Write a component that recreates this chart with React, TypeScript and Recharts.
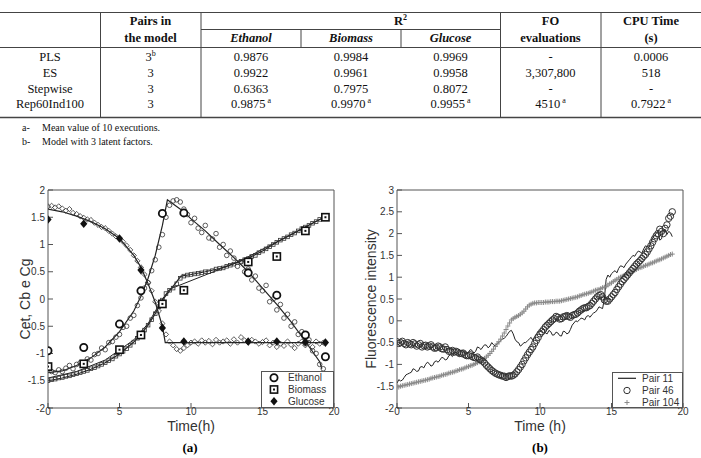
import React from 'react';
import { ComposedChart, Line, Scatter, XAxis, YAxis, Legend } from 'recharts';

// ---------------- Table data ----------------
const tableMethods = ['PLS', 'ES', 'Stepwise', 'Rep60Ind100'];
const tablePairs = ['3', '3', '3', '3'];
const tablePairsSup = ['b', '', '', ''];
const r2Ethanol = ['0.9876', '0.9922', '0.6363', '0.9875'];
const r2Biomass = ['0.9984', '0.9961', '0.7975', '0.9970'];
const r2Glucose = ['0.9969', '0.9958', '0.8072', '0.9955'];
const foEvaluations = ['-', '3,307,800', '-', '4510'];
const cpuTimes = ['0.0006', '518', '-', '0.7922'];
const rowMarks = ['', '', '', 'a'];
const footnotes = [
  ['a-', 'Mean value of 10 executions.'],
  ['b-', 'Model with 3 latent factors.'],
];

// ---------------- Chart (a) data ----------------
const xTicks = [0, 5, 10, 15, 20];
const yTicksA = [-2, -1.5, -1, -0.5, 0, 0.5, 1, 1.5, 2];
const yTicksB = [-2, -1.5, -1, -0.5, 0, 0.5, 1, 1.5, 2, 2.5, 3];

const sampleTimes = [
  0, 0.25, 0.5, 0.75, 1, 1.25, 1.5, 1.75, 2, 2.25, 2.5, 2.75, 3, 3.25, 3.5, 3.75,
  4, 4.25, 4.5, 4.75, 5, 5.25, 5.5, 5.75, 6, 6.25, 6.5, 6.75, 7, 7.25, 7.5, 7.75,
  8, 8.25, 8.5, 8.75, 9, 9.25, 9.5, 9.75, 10, 10.25, 10.5, 10.75, 11, 11.25, 11.5, 11.75,
  12, 12.25, 12.5, 12.75, 13, 13.25, 13.5, 13.75, 14, 14.25, 14.5, 14.75, 15, 15.25, 15.5, 15.75,
  16, 16.25, 16.5, 16.75, 17, 17.25, 17.5, 17.75, 18, 18.25, 18.5, 18.75, 19, 19.25,
];
const midTimes = [
  0.125, 0.375, 0.625, 0.875, 1.125, 1.375, 1.625, 1.875, 2.125, 2.375, 2.625, 2.875, 3.125, 3.375, 3.625, 3.875,
  4.125, 4.375, 4.625, 4.875, 5.125, 5.375, 5.625, 5.875, 6.125, 6.375, 6.625, 6.875, 7.125, 7.375, 7.625, 7.875,
  8.125, 8.375, 8.625, 8.875, 9.125, 9.375, 9.625, 9.875, 10.125, 10.375, 10.625, 10.875, 11.125, 11.375, 11.625, 11.875,
  12.125, 12.375, 12.625, 12.875, 13.125, 13.375, 13.625, 13.875, 14.125, 14.375, 14.625, 14.875, 15.125, 15.375, 15.625, 15.875,
  16.125, 16.375, 16.625, 16.875, 17.125, 17.375, 17.625, 17.875, 18.125, 18.375, 18.625, 18.875, 19.125,
];

const ethanolPred = [
  -1.28, -1.33, -1.35, -1.3, -1.33, -1.27, -1.22, -1.28, -1.2, -1.17, -1.2, -1.1, -1.12, -1.02, -1.0, -0.9,
  -0.93, -0.8, -0.78, -0.7, -0.65, -0.52, -0.5, -0.35, -0.3, -0.12, 0.02, 0.2, 0.3, 0.52, 0.72, 0.95,
  1.18, 1.5, 1.72, 1.8, 1.82, 1.78, 1.65, 1.55, 1.4, 1.48, 1.3, 1.22, 1.35, 1.12, 1.1, 1.2,
  0.95, 1.0, 0.8, 0.88, 0.75, 0.6, 0.68, 0.5, 0.55, 0.35, 0.42, 0.2, 0.15, 0.25, -0.05, 0.0,
  -0.2, -0.1, -0.35, -0.28, -0.5, -0.42, -0.65, -0.6, -0.82, -0.75, -0.95, -1.0, -1.2, -1.28,
];
const biomassPred = [
  -1.5, -1.48, -1.47, -1.45, -1.44, -1.42, -1.41, -1.39, -1.37, -1.35, -1.33, -1.31, -1.28, -1.26, -1.23, -1.2,
  -1.17, -1.13, -1.1, -1.05, -1.01, -0.96, -0.91, -0.85, -0.79, -0.72, -0.65, -0.57, -0.48, -0.38, -0.27, -0.14,
  -0.02, 0.1, 0.16, 0.2, 0.28, 0.38, 0.42, 0.44, 0.45, 0.46, 0.47, 0.48, 0.5, 0.5, 0.52, 0.55,
  0.56, 0.57, 0.6, 0.62, 0.64, 0.67, 0.69, 0.72, 0.74, 0.78, 0.8, 0.85, 0.88, 0.92, 0.96, 1.0,
  1.04, 1.08, 1.11, 1.14, 1.18, 1.21, 1.25, 1.29, 1.32, 1.35, 1.39, 1.42, 1.46, 1.48,
];
const glucosePred = [
  1.7, 1.71, 1.68, 1.7, 1.66, 1.62, 1.65, 1.58, 1.56, 1.52, 1.49, 1.46, 1.45, 1.4, 1.36, 1.32,
  1.3, 1.25, 1.2, 1.15, 1.12, 1.05, 0.98, 0.9, 0.8, 0.7, 0.58, 0.45, 0.3, 0.15, -0.05, -0.22,
  -0.45, -0.65, -0.78, -0.85, -0.92, -0.95, -0.9, -0.85, -0.8, -0.78, -0.82, -0.76, -0.8, -0.77, -0.83, -0.75,
  -0.8, -0.78, -0.76, -0.82, -0.74, -0.8, -0.7, -0.76, -0.8, -0.75, -0.78, -0.82, -0.79, -0.76, -0.85, -0.8,
  -0.88, -0.82, -0.86, -0.78, -0.84, -0.9, -0.82, -0.78, -0.85, -0.8, -0.88, -0.78, -0.82, -0.8,
];

const expTimes = [0, 2.5, 5, 6.5, 8, 9.5, 14, 16, 18, 19.4];
const ethanolExp = [-0.95, -0.89, -0.46, 0.15, 1.57, 1.58, 0.48, 0.07, -0.66, -1.06];
const biomassExp = [-1.24, -1.19, -0.93, -0.66, -0.09, 0.16, 0.68, 0.78, 1.25, 1.5];
const glucoseExp = [1.46, 1.38, 1.11, 0.53, -0.53, -0.78, -0.78, -0.78, -0.79, -0.8];

const ethanolModelT = [0, 1, 2, 3, 4, 5, 6, 6.5, 7, 7.5, 8, 8.35, 9.5, 10, 11, 12, 13, 14, 15, 16, 17, 18, 19, 19.15];
const ethanolModelY = [-1.35, -1.32, -1.22, -1.08, -0.88, -0.6, -0.22, 0.05, 0.38, 0.8, 1.35, 1.82, 1.6, 1.47, 1.25, 1.0, 0.76, 0.5, 0.2, -0.1, -0.42, -0.78, -1.15, -1.28];
const biomassModelT = [0, 1, 2, 3, 4, 5, 6, 6.5, 7, 7.5, 8, 8.5, 9.3, 10, 11, 12, 13, 14, 15, 16, 17, 18, 19.3];
const biomassModelY = [-1.5, -1.45, -1.38, -1.29, -1.17, -1.01, -0.79, -0.65, -0.48, -0.27, -0.02, 0.15, 0.42, 0.45, 0.5, 0.56, 0.65, 0.75, 0.88, 1.04, 1.18, 1.32, 1.5];
const biomassModel2T = [0, 2, 4, 6, 7, 8, 8.5, 13.3, 19.3];
const biomassModel2Y = [-1.45, -1.33, -1.12, -0.75, -0.45, 0.0, 0.18, 0.68, 1.5];
const glucoseModelT = [0, 1, 2, 3, 4, 5, 6, 6.5, 7, 7.5, 8, 8.2, 19.3];
const glucoseModelY = [1.65, 1.6, 1.52, 1.42, 1.29, 1.11, 0.8, 0.58, 0.28, -0.06, -0.5, -0.8, -0.8];

const legendNamesA = ['Ethanol', 'Biomass', 'Glucose'];

// ---------------- Chart (b) data ----------------
const pair11 = [
  -1.43, -1.38, -1.3, -1.22, -1.18, -1.12, -1.15, -1.05, -1.0, -0.98, -1.02, -0.92, -0.9, -0.85, -0.88, -0.78,
  -0.75, -0.76, -0.7, -0.74, -0.72, -0.68, -0.7, -0.62, -0.6, -0.56, -0.58, -0.55, -0.52, -0.45, -0.4, -0.3,
  -0.22, -0.42, -0.5, -0.55, -0.5, -0.42, -0.45, -0.3, -0.25, -0.18, -0.3, -0.25, -0.32, -0.28, -0.35, -0.25,
  -0.28, -0.1, 0.0, 0.02, 0.05, 0.1, 0.08, 0.18, 0.25, 0.3, 0.5, 1.05, 1.08, 1.15, 1.2, 1.25,
  1.3, 1.4, 1.5, 1.55, 1.58, 1.65, 1.7, 1.8, 1.95, 2.05, 1.88, 2.1, 2.05, 1.93,
];
const pair11Mid = [
  -1.35, -1.36, -1.24, -1.2, -1.1, -1.16, -1.06, -1.08, -0.95, -1.04, -0.94, -0.95, -0.84, -0.9, -0.8, -0.82,
  -0.72, -0.8, -0.68, -0.76, -0.66, -0.74, -0.6, -0.66, -0.55, -0.62, -0.5, -0.58, -0.5, -0.42, -0.36, -0.24,
  -0.3, -0.48, -0.58, -0.5, -0.46, -0.38, -0.36, -0.26, -0.22, -0.28, -0.22, -0.33, -0.26, -0.34, -0.24, -0.3,
  -0.2, -0.05, -0.02, 0.06, 0.02, 0.12, 0.14, 0.2, 0.32, 0.28, 0.95, 1.0, 1.12, 1.1, 1.26, 1.22,
  1.35, 1.45, 1.48, 1.6, 1.55, 1.72, 1.68, 1.9, 2.0, 1.85, 2.08, 1.98, 2.02,
];
const pair46 = [
  -0.48, -0.5, -0.52, -0.5, -0.55, -0.53, -0.55, -0.6, -0.56, -0.58, -0.6, -0.62, -0.6, -0.65, -0.66, -0.7,
  -0.72, -0.72, -0.75, -0.78, -0.8, -0.82, -0.85, -0.88, -0.93, -1.02, -1.1, -1.17, -1.22, -1.25, -1.27, -1.28,
  -1.27, -1.22, -1.12, -1.0, -0.85, -0.72, -0.6, -0.45, -0.3, -0.2, -0.1, -0.02, 0.05, 0.08, 0.05, 0.1,
  0.1, 0.12, 0.15, 0.22, 0.28, 0.3, 0.35, 0.45, 0.55, 0.6, 0.48, 0.45, 0.55, 0.65, 0.78, 0.9,
  1.0, 1.1, 1.2, 1.3, 1.38, 1.48, 1.58, 1.72, 1.88, 2.0, 2.05, 2.12, 2.35, 2.5,
];
const pair46Mid = [
  -0.52, -0.47, -0.55, -0.53, -0.5, -0.58, -0.52, -0.57, -0.6, -0.55, -0.63, -0.58, -0.64, -0.6, -0.7, -0.68,
  -0.7, -0.75, -0.74, -0.8, -0.78, -0.84, -0.83, -0.9, -0.97, -1.06, -1.14, -1.2, -1.24, -1.27, -1.3, -1.26,
  -1.25, -1.17, -1.06, -0.92, -0.78, -0.66, -0.52, -0.38, -0.25, -0.14, -0.06, 0.02, 0.1, 0.04, 0.09, 0.12,
  0.08, 0.14, 0.18, 0.25, 0.3, 0.33, 0.4, 0.5, 0.58, 0.55, 0.45, 0.5, 0.6, 0.72, 0.84, 0.95,
  1.05, 1.15, 1.25, 1.34, 1.43, 1.52, 1.65, 1.8, 1.95, 2.1, 2.0, 2.2, 2.4,
];
const pair104 = [
  -1.5, -1.5, -1.48, -1.46, -1.44, -1.42, -1.4, -1.38, -1.36, -1.34, -1.31, -1.29, -1.27, -1.24, -1.22, -1.19,
  -1.17, -1.14, -1.11, -1.08, -1.05, -1.02, -0.98, -0.94, -0.89, -0.83, -0.75, -0.65, -0.53, -0.42, -0.28, -0.12,
  0.02, 0.08, 0.12, 0.18, 0.27, 0.36, 0.4, 0.41, 0.42, 0.42, 0.43, 0.44, 0.44, 0.45, 0.46, 0.48,
  0.5, 0.52, 0.54, 0.57, 0.6, 0.62, 0.65, 0.68, 0.71, 0.74, 0.77, 0.82, 0.87, 0.93, 0.98, 1.02,
  1.06, 1.1, 1.14, 1.18, 1.22, 1.25, 1.28, 1.32, 1.35, 1.39, 1.42, 1.46, 1.5, 1.53,
];
const pair104Mid = [
  -1.52, -1.49, -1.47, -1.45, -1.43, -1.41, -1.39, -1.37, -1.35, -1.32, -1.3, -1.28, -1.25, -1.23, -1.2, -1.18,
  -1.15, -1.12, -1.1, -1.06, -1.03, -1.0, -0.96, -0.91, -0.86, -0.79, -0.7, -0.59, -0.48, -0.35, -0.2, -0.05,
  0.05, 0.1, 0.15, 0.22, 0.32, 0.38, 0.41, 0.42, 0.42, 0.43, 0.43, 0.44, 0.45, 0.45, 0.47, 0.49,
  0.51, 0.53, 0.55, 0.58, 0.61, 0.63, 0.66, 0.7, 0.72, 0.76, 0.79, 0.85, 0.9, 0.95, 1.0, 1.04,
  1.08, 1.12, 1.16, 1.2, 1.23, 1.27, 1.3, 1.33, 1.37, 1.4, 1.44, 1.48, 1.52,
];
const legendNamesB = ['Pair 11', 'Pair 46', 'Pair 104'];

// ---------------- helpers ----------------
type Pt = { x: number; y: number };
const zip = (xs: number[], ys: number[]): Pt[] => xs.map((x, i) => ({ x, y: ys[i] }));
const merge = (a: Pt[], b: Pt[]): Pt[] => [...a, ...b].sort((p, q) => p.x - q.x);

const ethPredData = zip(sampleTimes, ethanolPred);
const bioPredData = zip(sampleTimes, biomassPred);
const gluPredData = zip(sampleTimes, glucosePred);
const ethExpData = zip(expTimes, ethanolExp);
const bioExpData = zip(expTimes, biomassExp);
const gluExpData = zip(expTimes, glucoseExp);
const ethModelData = zip(ethanolModelT, ethanolModelY);
const bioModelData = zip(biomassModelT, biomassModelY);
const bioModel2Data = zip(biomassModel2T, biomassModel2Y);
const gluModelData = zip(glucoseModelT, glucoseModelY);
const p11Data = merge(zip(sampleTimes, pair11), zip(midTimes, pair11Mid));
const p46Data = merge(zip(sampleTimes, pair46), zip(midTimes, pair46Mid));
const p104Data = merge(zip(sampleTimes, pair104), zip(midTimes, pair104Mid));

const SANS = "'Liberation Sans', Arial, Helvetica, sans-serif";
const SERIF = "'Liberation Serif', 'Times New Roman', serif";
const AXIS = '#555';
const INK = '#222';
const tickStyle = { fontSize: 10, fill: '#333', fontFamily: SANS };

// marker shapes
const SmallCircle = (p: any) => <circle cx={p.cx} cy={p.cy} r={2.3} fill="none" stroke="#333" strokeWidth={0.8} />;
const SmallDiamond = (p: any) => (
  <path d={`M${p.cx},${p.cy - 2.6}L${p.cx + 2.6},${p.cy}L${p.cx},${p.cy + 2.6}L${p.cx - 2.6},${p.cy}Z`} fill="none" stroke="#333" strokeWidth={0.8} />
);
const SmallSquare = (p: any) => <rect x={p.cx - 1.8} y={p.cy - 1.8} width={3.6} height={3.6} fill="none" stroke="#333" strokeWidth={0.8} />;
const BigCircle = (p: any) => <circle cx={p.cx} cy={p.cy} r={3.6} fill="#fff" stroke="#111" strokeWidth={1.8} />;
const BigSquare = (p: any) => (
  <g>
    <rect x={p.cx - 3.6} y={p.cy - 3.6} width={7.2} height={7.2} fill="#fff" stroke="#111" strokeWidth={1.6} />
    <rect x={p.cx - 1} y={p.cy - 1} width={2} height={2} fill="#111" />
  </g>
);
const BigDiamond = (p: any) => (
  <path d={`M${p.cx},${p.cy - 4.3}L${p.cx + 3.6},${p.cy}L${p.cx},${p.cy + 4.3}L${p.cx - 3.6},${p.cy}Z`} fill="#111" />
);
const OpenCircle = (p: any) => <circle cx={p.cx} cy={p.cy} r={3.2} fill="none" stroke="#333" strokeWidth={1} />;
const Plus = (p: any) => (
  <path d={`M${p.cx - 2.5},${p.cy}H${p.cx + 2.5}M${p.cx},${p.cy - 2.5}V${p.cy + 2.5}`} stroke="#8a8a8a" strokeWidth={1} />
);

const legendText = { fontSize: 10, fill: '#333', fontFamily: SANS } as const;

function LegendA() {
  const rows = [6.7, 18.5, 30.3];
  return (
    <svg width={73} height={37} style={{ display: 'block' }}>
      <rect x={0.5} y={0.5} width={72} height={36} fill="#fff" stroke={AXIS} />
      <BigCircle cx={13} cy={rows[0]} />
      <BigSquare cx={13} cy={rows[1]} />
      <BigDiamond cx={13} cy={rows[2]} />
      {legendNamesA.map((n, i) => (
        <text key={n} x={27} y={rows[i] + 3.5} {...legendText}>{n}</text>
      ))}
    </svg>
  );
}

function LegendB() {
  const rows = [6.3, 18.5, 30.5];
  return (
    <svg width={71} height={36} style={{ display: 'block' }}>
      <rect x={0.5} y={0.5} width={70} height={35} fill="#fff" stroke={AXIS} />
      <line x1={6} x2={24} y1={rows[0]} y2={rows[0]} stroke={INK} strokeWidth={1.2} />
      <OpenCircle cx={15} cy={rows[1]} />
      <Plus cx={15} cy={rows[2]} />
      {legendNamesB.map((n, i) => (
        <text key={n} x={30} y={rows[i] + 3.5} {...legendText}>{n}</text>
      ))}
    </svg>
  );
}

const yLabel = (text: string, dx: number) => (props: any) => {
  const vb = props.viewBox || {};
  const cx = vb.x + dx;
  const cy = vb.y + vb.height / 2;
  return (
    <text x={cx} y={cy} transform={`rotate(-90, ${cx}, ${cy})`} textAnchor="middle" dominantBaseline="central" fontSize={14} fill="#333" fontFamily={SANS}>
      {text}
    </text>
  );
};
const xLabel = (text: string) => (props: any) => {
  const vb = props.viewBox || {};
  return (
    <text x={vb.x + vb.width / 2} y={vb.y + 23} textAnchor="middle" fontSize={14} fill="#333" fontFamily={SANS}>
      {text}
    </text>
  );
};

const CHART_W = 350;
const CHART_H = 270;
const chartMargin = { top: 19, right: 15, bottom: 2, left: 8 };

function ChartA() {
  return (
    <ComposedChart width={CHART_W} height={CHART_H} margin={chartMargin}>
      <XAxis type="number" dataKey="x" domain={[0, 20]} ticks={xTicks} allowDataOverflow height={30} stroke={AXIS}
        tickSize={-5} tickMargin={5} tick={tickStyle} label={{ content: xLabel('Time(h)') }} />
      <XAxis xAxisId="top" orientation="top" type="number" dataKey="x" domain={[0, 20]} ticks={xTicks} height={1}
        stroke={AXIS} tickSize={-5} tick={false} />
      <YAxis type="number" dataKey="y" domain={[-2, 2]} ticks={yTicksA} allowDataOverflow width={40} stroke={AXIS}
        tickSize={-5} tickMargin={8} tick={tickStyle} label={{ content: yLabel('Cet, Cb e Cg', 16.5) }} />
      <YAxis yAxisId="right" orientation="right" type="number" dataKey="y" domain={[-2, 2]} ticks={yTicksA} width={1}
        stroke={AXIS} tickSize={-5} tick={false} />
      <Scatter name="Ethanol (pred)" data={ethPredData} dataKey="y" shape={SmallCircle} isAnimationActive={false} legendType="none" />
      <Scatter name="Biomass (pred)" data={bioPredData} dataKey="y" shape={SmallSquare} isAnimationActive={false} legendType="none" />
      <Scatter name="Glucose (pred)" data={gluPredData} dataKey="y" shape={SmallDiamond} isAnimationActive={false} legendType="none" />
      <Line data={ethModelData} dataKey="y" type="linear" stroke={INK} strokeWidth={1.2} dot={false} isAnimationActive={false} legendType="none" />
      <Line data={bioModelData} dataKey="y" type="linear" stroke={INK} strokeWidth={1.2} dot={false} isAnimationActive={false} legendType="none" />
      <Line data={bioModel2Data} dataKey="y" type="linear" stroke={INK} strokeWidth={1} dot={false} isAnimationActive={false} legendType="none" />
      <Line data={gluModelData} dataKey="y" type="linear" stroke={INK} strokeWidth={1.2} dot={false} isAnimationActive={false} legendType="none" />
      <Scatter name="Ethanol" data={ethExpData} dataKey="y" shape={BigCircle} isAnimationActive={false} />
      <Scatter name="Biomass" data={bioExpData} dataKey="y" shape={BigSquare} isAnimationActive={false} />
      <Scatter name="Glucose" data={gluExpData} dataKey="y" shape={BigDiamond} isAnimationActive={false} />
      <Legend layout="vertical" align="center" verticalAlign="middle" content={() => <LegendA />}
        wrapperStyle={{ left: 261, top: 201, width: 73, height: 37 }} />
    </ComposedChart>
  );
}

function ChartB() {
  return (
    <ComposedChart width={CHART_W} height={CHART_H} margin={chartMargin}>
      <XAxis type="number" dataKey="x" domain={[0, 20]} ticks={xTicks} allowDataOverflow height={30} stroke={AXIS}
        tickSize={-5} tickMargin={5} tick={tickStyle} label={{ content: xLabel('Time (h)') }} />
      <XAxis xAxisId="top" orientation="top" type="number" dataKey="x" domain={[0, 20]} ticks={xTicks} height={1}
        stroke={AXIS} tickSize={-5} tick={false} />
      <YAxis type="number" dataKey="y" domain={[-2, 3]} ticks={yTicksB} allowDataOverflow width={40} stroke={AXIS}
        tickSize={-5} tickMargin={8} tick={tickStyle} label={{ content: yLabel('Fluorescence intensity', 13.5) }} />
      <YAxis yAxisId="right" orientation="right" type="number" dataKey="y" domain={[-2, 3]} ticks={yTicksB} width={1}
        stroke={AXIS} tickSize={-5} tick={false} />
      <Scatter name="Pair 104" data={p104Data} dataKey="y" shape={Plus} isAnimationActive={false} />
      <Scatter name="Pair 46" data={p46Data} dataKey="y" shape={OpenCircle} isAnimationActive={false} />
      <Line name="Pair 11" data={p11Data} dataKey="y" type="linear" stroke={INK} strokeWidth={1} dot={false} isAnimationActive={false} />
      <Legend layout="vertical" align="center" verticalAlign="middle" content={() => <LegendB />}
        wrapperStyle={{ left: 263, top: 202, width: 71, height: 36 }} />
    </ComposedChart>
  );
}

function ResultsTable() {
  const centers = [50, 150.5, 251, 351, 450.5, 550.5, 651];
  const rowY = [61, 77, 93, 108];
  const line = { stroke: '#444', strokeWidth: 1 };
  const cells = (i: number) => [r2Ethanol[i], r2Biomass[i], r2Glucose[i], foEvaluations[i], cpuTimes[i]];
  return (
    <svg width={701} height={150} style={{ position: 'absolute', left: 0, top: 0 }} fontFamily={SERIF} fill="#111">
      <line x1={0} x2={701} y1={12.5} y2={12.5} {...line} />
      <line x1={201} x2={500} y1={29.5} y2={29.5} {...line} />
      <line x1={0} x2={701} y1={47.5} y2={47.5} {...line} />
      <line x1={0} x2={701} y1={117.5} y2={117.5} stroke="#444" strokeWidth={1.5} />
      {[100.5, 201, 500.5, 601].map((x) => (
        <line key={x} x1={x} x2={x} y1={12} y2={118} {...line} />
      ))}
      {[301, 401].map((x) => (
        <line key={x} x1={x} x2={x} y1={29.5} y2={47.5} {...line} />
      ))}
      <g fontWeight="bold" fontSize={12.5} textAnchor="middle">
        <text x={centers[1]} y={25}>Pairs in</text>
        <text x={centers[1]} y={42}>the model</text>
        <text x={400.5} y={25}>R<tspan dy={-5} fontSize={8}>2</tspan></text>
        <text x={centers[2]} y={42} fontStyle="italic">Ethanol</text>
        <text x={centers[3]} y={42} fontStyle="italic">Biomass</text>
        <text x={centers[4]} y={42} fontStyle="italic">Glucose</text>
        <text x={centers[5]} y={25}>FO</text>
        <text x={centers[5]} y={42}>evaluations</text>
        <text x={centers[6]} y={25}>CPU Time</text>
        <text x={centers[6]} y={42}>(s)</text>
      </g>
      <g fontSize={12.5} textAnchor="middle">
        {tableMethods.map((m, i) => (
          <g key={m}>
            <text x={centers[0]} y={rowY[i]}>{m}</text>
            <text x={centers[1]} y={rowY[i]}>
              {tablePairs[i]}
              {tablePairsSup[i] ? <tspan dy={-5} fontSize={8}>{tablePairsSup[i]}</tspan> : null}
            </text>
            {cells(i).map((v, j) => (
              <text key={j} x={centers[j + 2]} y={rowY[i]}>
                {v}
                {rowMarks[i] ? <tspan dy={-5} fontSize={8}>{' ' + rowMarks[i]}</tspan> : null}
              </text>
            ))}
          </g>
        ))}
      </g>
      <g fontSize={10}>
        {footnotes.map((f, i) => (
          <g key={f[0]}>
            <text x={22} y={131 + i * 14}>{f[0]}</text>
            <text x={42} y={131 + i * 14}>{f[1]}</text>
          </g>
        ))}
      </g>
    </svg>
  );
}

export default function App() {
  return (
    <div style={{ position: 'absolute', left: 0, top: 0, width: 701, height: 458, background: '#fff', overflow: 'hidden' }}>
      <ResultsTable />
      <div style={{ position: 'absolute', left: 0, top: 170 }}>
        <ChartA />
      </div>
      <div style={{ position: 'absolute', left: 349, top: 170 }}>
        <ChartB />
      </div>
      <div style={{ position: 'absolute', left: 0, top: 440, width: 380, textAlign: 'center', fontFamily: SERIF, fontWeight: 'bold', fontSize: 13 }}>(a)</div>
      <div style={{ position: 'absolute', left: 350, top: 440, width: 380, textAlign: 'center', fontFamily: SERIF, fontWeight: 'bold', fontSize: 13 }}>(b)</div>
    </div>
  );
}
